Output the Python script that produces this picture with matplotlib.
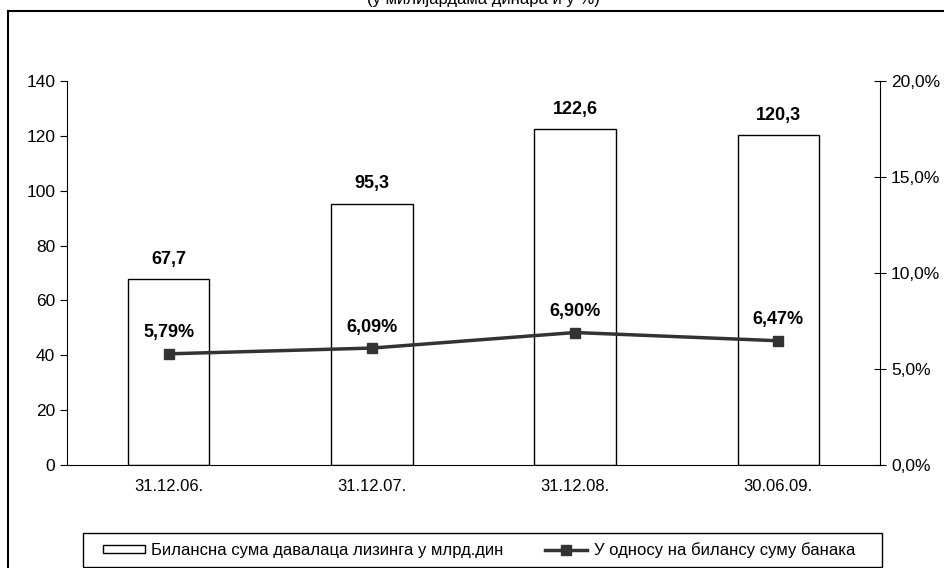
import matplotlib.pyplot as plt
from matplotlib.lines import Line2D
from matplotlib.patches import Rectangle
from matplotlib.ticker import FuncFormatter

plt.rcParams['font.family'] = ['Liberation Sans', 'DejaVu Sans']

datumi = ['31.12.06.', '31.12.07.', '31.12.08.', '30.06.09.']
bilansna_suma = [67.7, 95.3, 122.6, 120.3]
udeo = [5.79, 6.09, 6.90, 6.47]

W, H = 944, 568
fig = plt.figure(figsize=(W / 100, H / 100), dpi=100)

# okvir i naslov (odsecen gore)
fig.add_artist(Line2D([8 / W, 8 / W], [0, 1 - 11 / H], color='black', lw=1.5))
fig.add_artist(Line2D([8 / W, 1], [1 - 11 / H, 1 - 11 / H], color='black', lw=1.5))
fig.text(483 / W, 1 - 4 / H, '(у милијардама динара и у %)', ha='center', va='baseline', fontsize=12)

ax = fig.add_axes([67 / W, 1 - 465 / H, (880 - 67) / W, (465 - 81) / H])
x = range(len(datumi))
bars = ax.bar(x, bilansna_suma, width=0.4, color='white', edgecolor='black', lw=1,
              label='Билансна сума давалаца лизинга у млрд.дин')
for i, v in enumerate(bilansna_suma):
    ax.annotate(f'{v:.1f}'.replace('.', ','), (i, v), xytext=(0, 8), textcoords='offset points',
                ha='center', va='bottom', fontsize=13, fontweight='bold')

ax.set_xlim(-0.5, len(datumi) - 0.5)
ax.set_ylim(0, 140)
ax.set_yticks(range(0, 141, 20))
ax.set_xticks(list(x))
ax.set_xticklabels(datumi)
ax.tick_params(axis='x', length=0, pad=10, labelsize=12)
ax.tick_params(axis='y', direction='out', length=5, labelsize=12.5)
ax.spines['top'].set_visible(False)
ax.spines['right'].set_visible(False)

ax2 = ax.twinx()
linija, = ax2.plot(list(x), udeo, color='#333333', lw=2.5, marker='s', markersize=7,
                   label='У односу на билансу суму банака')
for i, v in enumerate(udeo):
    ax2.annotate(f'{v:.2f}%'.replace('.', ','), (i, v), xytext=(0, 9), textcoords='offset points',
                 ha='center', va='bottom', fontsize=13, fontweight='bold')
ax2.set_ylim(0, 20)
ax2.set_yticks(range(0, 21, 5))
ax2.yaxis.set_major_formatter(FuncFormatter(lambda v, p: f'{v:.1f}%'.replace('.', ',')))
ax2.tick_params(axis='y', direction='inout', length=9, labelsize=12.5)
ax2.spines['top'].set_visible(False)
ax2.spines['left'].set_visible(False)
ax2.spines['bottom'].set_visible(False)

# legenda sa rucno nacrtanim okvirom
fig.add_artist(Rectangle((83 / W, 1 - 567 / H), (882 - 83) / W, (567 - 533) / H,
                         transform=fig.transFigure, fill=False, edgecolor='black', lw=1))
fig.legend(handles=[bars, linija], loc='center left', ncol=2,
           bbox_to_anchor=(103 / W, 1 - 550 / H), frameon=False, fontsize=12,
           handlelength=2.5, handleheight=0.45, handletextpad=0.4, borderpad=0,
           borderaxespad=0, columnspacing=2.5)

fig.savefig('out.png', dpi=100)
